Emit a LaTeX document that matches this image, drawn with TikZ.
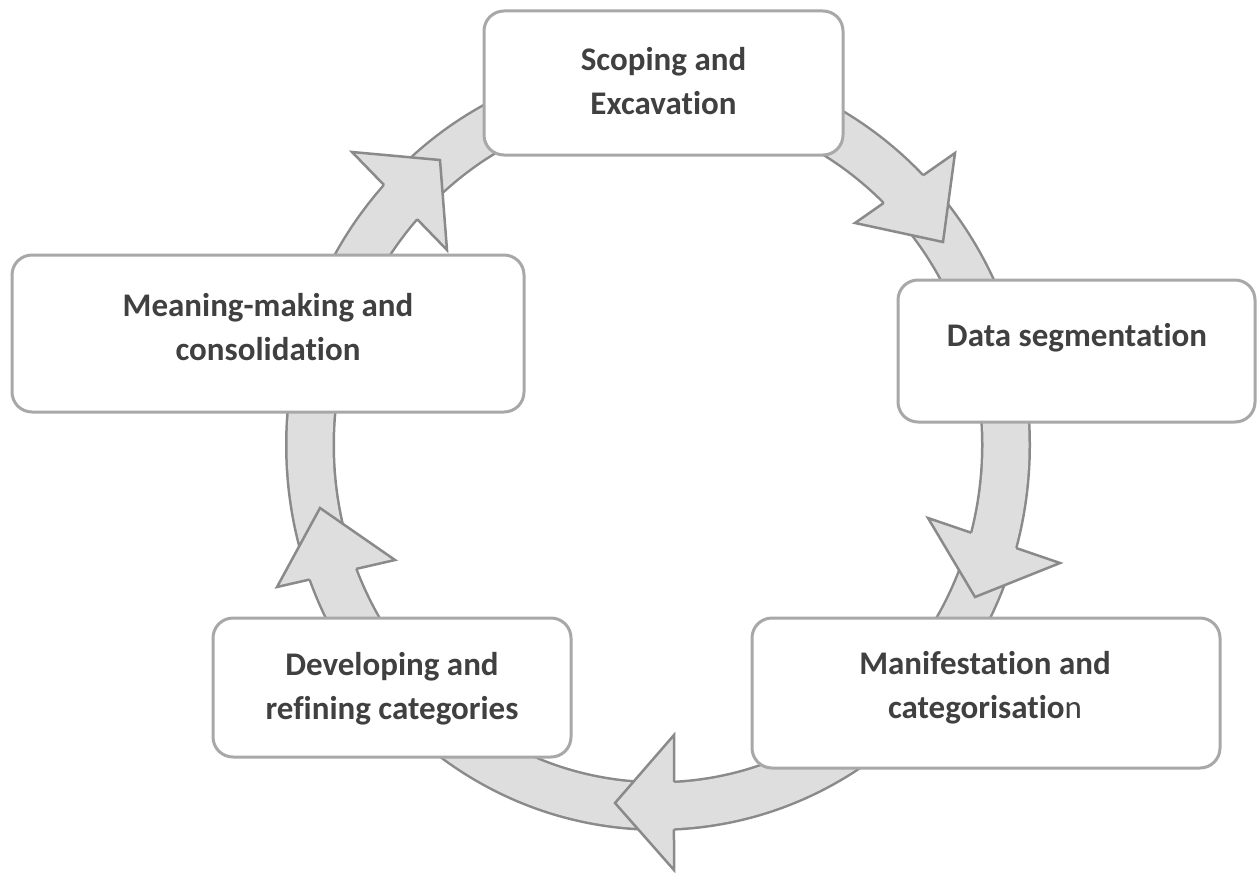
\documentclass[tikz,border=0pt]{standalone}
\usepackage{fontspec}
\setmainfont{Carlito}[RawFeature={-liga,-clig,-calt,-dlig}]
\usetikzlibrary{intersections}
\definecolor{ringgray}{HTML}{8A8A8A}
\definecolor{ringfill}{HTML}{DEDEDE}
\definecolor{boxgray}{HTML}{A8A8A8}
\definecolor{textgray}{HTML}{404040}
% an arrowhead over the band: filled triangle, outline left open where the band enters
\newcommand{\ringhead}[1]{%
  \path[name path=back#1] (h#1a) -- (h#1b);
  \path[name intersections={of=back#1 and innerE, by={s#1i}}];
  \path[name intersections={of=back#1 and outerE, by={s#1o}}];
  \fill[ringfill] (h#1a) -- (h#1t) -- (h#1b) -- cycle;
  \draw[headline] (s#1i) -- (h#1a) -- (h#1t) -- (h#1b) -- (s#1o);
}
\begin{document}
\begin{tikzpicture}[x=1pt,y=-1pt,
  headline/.style={draw=ringgray, line width=2.5pt, line join=miter},
  stepbox/.style={draw=boxgray, line width=3pt, fill=white, rounded corners=20pt, inner sep=0pt},
  steptext/.style={font=\fontsize{33}{44}\selectfont\bfseries, text=textgray, align=center, inner sep=0pt}
]
\useasboundingbox (0,0) rectangle (1257,872);

% the circular band: a dark outline stroke with a lighter stroke on top
\draw[ringgray, line width=50pt] (658,445) ellipse [x radius=348pt, y radius=361pt];
\draw[ringfill, line width=45pt] (658,445) ellipse [x radius=348pt, y radius=361pt];
% centre lines of the band's two outlines
\path[name path=outerE] (658,445) ellipse [x radius=371.75pt, y radius=384.75pt];
\path[name path=innerE] (658,445) ellipse [x radius=324.25pt, y radius=337.25pt];

% arrowheads laid over the band, clockwise (a: inner barb, t: tip, b: outer barb)
\coordinate (h1a) at (855,223); \coordinate (h1t) at (943,242); \coordinate (h1b) at (955,153);
\coordinate (h2a) at (928,518); \coordinate (h2t) at (975,597); \coordinate (h2b) at (1060,563);
\coordinate (h3a) at (674,735); \coordinate (h3t) at (615,803); \coordinate (h3b) at (674,870);
\coordinate (h4a) at (395,560); \coordinate (h4t) at (320,508); \coordinate (h4b) at (277,587);
\coordinate (h5a) at (447,250); \coordinate (h5t) at (440,160); \coordinate (h5b) at (352,152);
\ringhead{1}
\ringhead{2}
\ringhead{3}
\ringhead{4}
\ringhead{5}

% stage boxes
\node[stepbox, minimum width=359pt, minimum height=144pt] (scoping) at (663.5,83) {};
\node[stepbox, minimum width=357pt, minimum height=142pt] (data) at (1076.5,351) {};
\node[stepbox, minimum width=468pt, minimum height=150pt] (manif) at (986,693) {};
\node[stepbox, minimum width=358pt, minimum height=139pt] (develop) at (392,687.5) {};
\node[stepbox, minimum width=512pt, minimum height=157pt] (meaning) at (268,333.5) {};

% stage labels
\node[steptext] (scopingT) at (663.5,81) {Scoping and\\Excavation};
\node[steptext] (dataT) at (1077,338) {Data segmentation};
\node[steptext] (manifT) at (985,688) {Manifestation and\\categorisatio{\mdseries n}};
\node[steptext] (developT) at (392,689) {Developing and\\refining categories};
\node[steptext] (meaningT) at (268,327) {Meaning-making and\\consolidation};
\end{tikzpicture}
\end{document}
